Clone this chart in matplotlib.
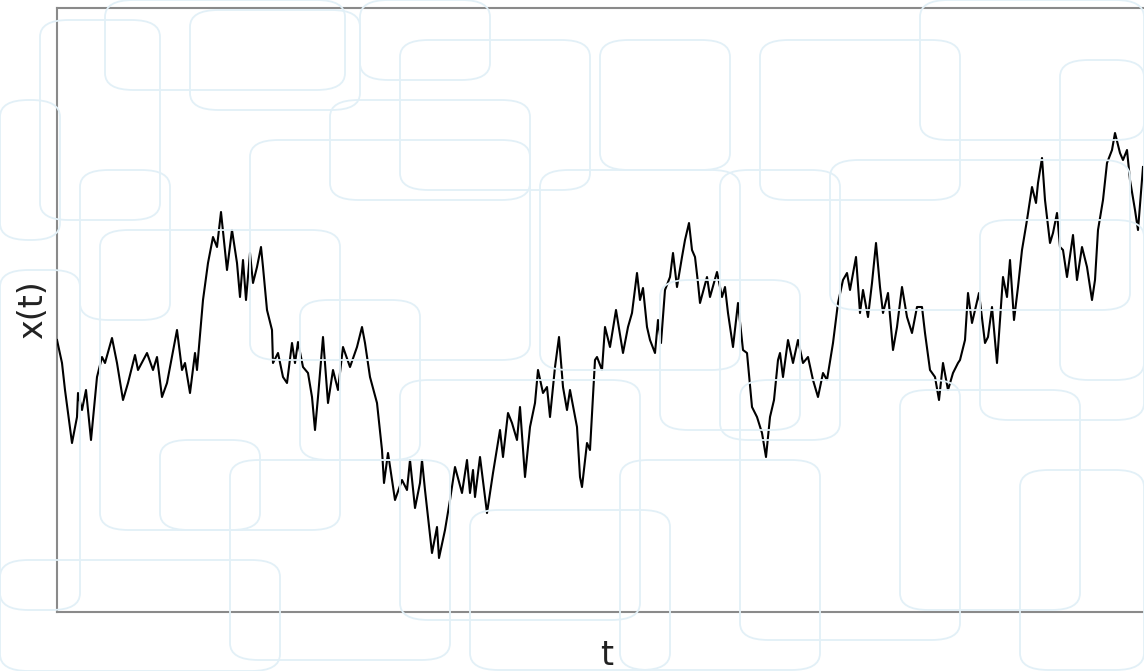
import matplotlib
matplotlib.use("Agg")
import matplotlib.pyplot as plt
from matplotlib.patches import FancyBboxPatch

# Brownian path (t in steps, x in arbitrary units)
t_vals = [0, 5, 8, 15, 20, 21, 25, 29, 34, 40, 45, 48, 55, 60, 66, 71, 78, 81, 90, 96,
          100, 105, 110, 120, 125, 128, 133, 138, 140, 146, 151, 156, 160, 164, 170, 175,
          180, 183, 186, 189, 193, 196, 200, 204, 206, 210, 215, 216, 221, 226, 230, 235,
          238, 241, 246, 251, 255, 258, 261, 266, 271, 276, 281, 286, 293, 300, 305, 308,
          313, 320, 325, 327, 331, 338, 345, 350, 353, 358, 363, 365, 368, 375, 380, 382,
          388, 393, 398, 405, 410, 413, 416, 418, 423, 430, 436, 443, 446, 451, 455, 460,
          463, 468, 473, 478, 481, 486, 490, 493, 498, 502, 506, 510, 513, 520, 523, 525,
          530, 533, 538, 540, 545, 548, 553, 559, 566, 571, 575, 580, 583, 586, 590, 593,
          598, 601, 604, 608, 613, 616, 620, 625, 628, 632, 635, 638, 641, 643, 650, 653,
          660, 665, 668, 671, 676, 681, 686, 690, 695, 700, 705, 709, 713, 717, 721, 723,
          726, 731, 736, 741, 746, 751, 756, 761, 766, 770, 776, 781, 786, 790, 793, 799,
          803, 806, 811, 815, 819, 823, 826, 831, 836, 840, 845, 850, 855, 860, 865, 868,
          873, 878, 882, 886, 891, 896, 901, 903, 908, 911, 915, 918, 922, 928, 931, 935,
          940, 946, 950, 953, 957, 961, 965, 970, 975, 979, 981, 985, 988, 993, 996, 1000,
          1003, 1006, 1010, 1016, 1020, 1025, 1030, 1035, 1038, 1041, 1046, 1050, 1055,
          1058, 1063, 1066, 1070, 1073, 1078, 1081, 1086]
x_vals = [0, -23, -50, -103, -77, -53, -70, -50, -100, -37, -17, -23, 2, -23, -60, -43, -15,
          -30, -13, -30, -17, -57, -43, 10, -30, -23, -53, -13, -30, 40, 77, 103, 93, 128,
          70, 110, 77, 43, 80, 40, 87, 57, 73, 93, 73, 30, 10, -23, -13, -37, -43, -3, -23,
          -2, -27, -33, -57, -90, -57, 3, -63, -30, -50, -7, -27, -7, 13, -3, -37, -63,
          -110, -143, -113, -160, -140, -150, -120, -168, -143, -120, -150, -213, -187,
          -218, -190, -160, -127, -153, -120, -153, -130, -157, -117, -173, -133, -90,
          -117, -73, -83, -100, -67, -137, -87, -63, -30, -53, -47, -77, -27, 3, -47, -70,
          -50, -87, -137, -147, -103, -110, -20, -17, -30, 13, -7, 30, -13, 13, 27, 67, 40,
          52, 13, 0, -13, 20, -3, 50, 63, 87, 53, 83, 100, 117, 90, 83, 57, 37, 63, 43, 68,
          43, 53, 27, -7, 37, -10, -13, -67, -77, -93, -117, -77, -60, -20, -13, -37, 0,
          -23, 0, -23, -17, -40, -57, -33, -40, -3, 37, 60, 67, 50, 83, 27, 50, 23, 57, 97,
          53, 27, 47, -10, 13, 53, 23, 7, 33, 33, 7, -30, -37, -60, -23, -50, -33, -23,
          -20, 0, 47, 17, 30, 47, -3, 3, 33, -23, 63, 43, 80, 20, 53, 90, 120, 153, 137,
          157, 182, 140, 97, 107, 127, 93, 90, 63, 105, 60, 93, 73, 40, 60, 110, 140, 177,
          190, 207, 187, 180, 190, 160, 130, 110, 173]

x_label = "t"
y_label = "x(t)"

W, H = 1144, 671
fig = plt.figure(figsize=(W / 100, H / 100), dpi=100)
fig.patch.set_facecolor("white")

# decorative background of faint rounded rectangles (figure pixel boxes)
bg_boxes = [(105, 0, 240, 90), (190, 10, 170, 100), (360, 0, 130, 80), (400, 40, 190, 150),
            (600, 40, 130, 130), (760, 40, 200, 160), (920, 0, 224, 140), (0, 100, 60, 140),
            (80, 170, 90, 150), (100, 230, 240, 300), (250, 140, 280, 220), (330, 100, 200, 100),
            (540, 170, 200, 200), (720, 170, 120, 270), (830, 160, 300, 150), (980, 220, 164, 200),
            (0, 270, 80, 340), (160, 440, 100, 90), (230, 460, 220, 200), (400, 380, 240, 240),
            (470, 510, 200, 160), (620, 460, 200, 210), (740, 380, 220, 260), (900, 390, 180, 220),
            (1020, 470, 124, 200), (0, 560, 280, 111), (40, 20, 120, 200), (660, 280, 140, 150),
            (1060, 60, 84, 320), (300, 300, 120, 160)]
for (bx, by, bw, bh) in bg_boxes:
    p = FancyBboxPatch((bx / W, 1 - (by + bh) / H), bw / W, bh / H,
                       boxstyle="round,pad=0,rounding_size=0.025",
                       transform=fig.transFigure, fill=False,
                       edgecolor="#e2f0f7", lw=1.3, zorder=0)
    fig.patches.append(p)

left_px, right_px, bottom_px, top_px = 57, 1150, 612, 8
ax = fig.add_axes([left_px / W, 1 - bottom_px / H,
                   (right_px - left_px) / W, (bottom_px - top_px) / H])
ax.set_facecolor("none")
ax.plot(t_vals, x_vals, color="black", lw=1.5, zorder=3)
ax.set_xlim(0, right_px - left_px)
ax.set_ylim(340 - 612, 340 - 8)
ax.set_xticks([])
ax.set_yticks([])
for s in ax.spines.values():
    s.set_color("#8a8a8a")
    s.set_linewidth(1.5)

ax.set_xlabel(x_label, fontsize=24, labelpad=12, color="#222222")
ax.set_ylabel(y_label, fontsize=24, labelpad=6, color="#222222")
ax.xaxis.set_label_coords((607 - left_px) / (right_px - left_px), -0.045, transform=ax.transAxes)
ax.xaxis.label.set_va("top")

fig.savefig("out.png", dpi=100)
